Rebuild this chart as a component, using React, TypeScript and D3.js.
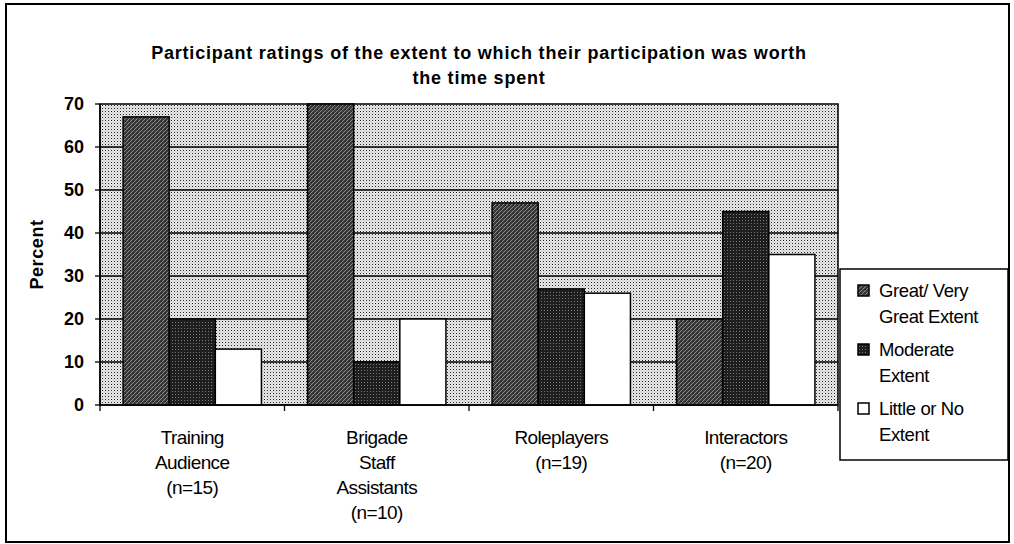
import React from "react";
import * as d3 from "d3";

const categories = ["Training Audience (n=15)", "Brigade Staff Assistants (n=10)", "Roleplayers (n=19)", "Interactors (n=20)"];
const categoryLines = [["Training", "Audience", "(n=15)"], ["Brigade", "Staff", "Assistants", "(n=10)"], ["Roleplayers", "(n=19)"], ["Interactors", "(n=20)"]];
const seriesNames = ["Great/ Very Great Extent", "Moderate Extent", "Little or No Extent"];
const legendLines = [["Great/ Very", "Great Extent"], ["Moderate", "Extent"], ["Little or No", "Extent"]];
const greatVeryGreat = [67, 70, 47, 20];
const moderate = [20, 10, 27, 45];
const littleOrNo = [13, 20, 26, 35];
const yTicks = [0, 10, 20, 30, 40, 50, 60, 70];

const W = 1014, H = 544;
const M = { left: 100, right: 838, top: 104, bottom: 405 };
const FONT = "'Liberation Sans', Arial, sans-serif";

export default function App() {
  const series = [greatVeryGreat, moderate, littleOrNo];
  const x0 = d3.scaleBand().domain(categories).range([M.left, M.right]).paddingInner(0).paddingOuter(0);
  const x1 = d3.scaleBand().domain(seriesNames).range([0, x0.bandwidth()]).paddingInner(0).paddingOuter(0.5);
  const y = d3.scaleLinear().domain([0, 70]).range([M.bottom, M.top]);
  const fills = ["url(#p1)", "url(#p2)", "#ffffff"];
  const boundaries = [...categories.map((c) => x0(c)!), M.right];

  return (
    <svg width={W} height={H} style={{ position: "absolute", left: 0, top: 0, background: "#fff" }} fontFamily={FONT}>
      <defs>
        <pattern id="bg" width="3" height="3" patternUnits="userSpaceOnUse">
          <rect width="3" height="3" fill="#e8e8e8" />
          <rect width="1" height="1" fill="#222" />
          <rect x="1.5" y="1.5" width="1" height="1" fill="#aaa" />
        </pattern>
        <pattern id="p1" width="4" height="4" patternUnits="userSpaceOnUse">
          <rect width="4" height="4" fill="#3a3a3a" />
          <path d="M0,4 L4,0" stroke="#8a8a8a" strokeWidth="1" />
          <rect x="1" y="1" width="1" height="1" fill="#111" />
        </pattern>
        <pattern id="p2" width="3" height="3" patternUnits="userSpaceOnUse">
          <rect width="3" height="3" fill="#1e1e1e" />
          <rect x="1" y="1" width="1" height="1" fill="#7a7a7a" />
        </pattern>
      </defs>

      {/* outer frame */}
      <rect x={6} y={4} width={1003} height={538} fill="none" stroke="#000" strokeWidth={2} />

      {/* title */}
      <text x={479} y={59} textAnchor="middle" fontSize={18} fontWeight="bold" style={{ letterSpacing: "0.8px" }}>Participant ratings of the extent to which their participation was worth</text>
      <text x={479} y={84} textAnchor="middle" fontSize={18} fontWeight="bold" style={{ letterSpacing: "0.8px" }}>the time spent</text>

      {/* plot area */}
      <rect x={M.left} y={M.top} width={M.right - M.left} height={M.bottom - M.top} fill="url(#bg)" stroke="#000" strokeWidth={1.5} />
      {yTicks.filter((t) => t > 0 && t < 70).map((t) => (
        <line key={t} x1={M.left} x2={M.right} y1={y(t)} y2={y(t)} stroke="#000" strokeWidth={1.3} />
      ))}

      {/* bars */}
      {categories.map((c, i) => (
        <g key={c}>
          {series.map((s, j) => (
            <rect key={j} x={x0(c)! + x1(seriesNames[j])!} y={y(s[i])} width={x1.bandwidth()} height={y(0) - y(s[i])}
              fill={fills[j]} stroke="#000" strokeWidth={1.5} />
          ))}
        </g>
      ))}

      {/* axes */}
      <line x1={M.left} x2={M.left} y1={M.top} y2={M.bottom} stroke="#000" strokeWidth={1.5} />
      <line x1={M.left} x2={M.right} y1={M.bottom} y2={M.bottom} stroke="#000" strokeWidth={1.5} />
      {yTicks.map((t) => (
        <g key={t}>
          <line x1={M.left - 5} x2={M.left} y1={y(t)} y2={y(t)} stroke="#000" strokeWidth={1.3} />
          <text x={84} y={y(t)} dy="0.36em" textAnchor="end" fontSize={18} fontWeight="bold">{t}</text>
        </g>
      ))}
      {boundaries.map((b, i) => (
        <line key={i} x1={b} x2={b} y1={M.bottom} y2={M.bottom + 6} stroke="#000" strokeWidth={1.3} />
      ))}
      <text transform={`translate(43,${(M.top + M.bottom) / 2}) rotate(-90)`} textAnchor="middle" fontSize={18} fontWeight="bold" style={{ letterSpacing: "0.6px" }}>Percent</text>

      {/* category labels */}
      {categories.map((c, i) => (
        <text key={c} textAnchor="middle" fontSize={19} style={{ letterSpacing: "-0.6px" }}>
          {categoryLines[i].map((l, k) => (
            <tspan key={k} x={x0(c)! + x0.bandwidth() / 2} y={444 + k * 25}>{l}</tspan>
          ))}
        </text>
      ))}

      {/* legend */}
      <rect x={840} y={269} width={168} height={191} fill="#fff" stroke="#000" strokeWidth={1.5} />
      {legendLines.map((lines, j) => {
        const top = 297 + j * 59;
        return (
          <g key={j}>
            <rect x={858} y={top - 12} width={11} height={11} fill={fills[j]} stroke="#000" strokeWidth={1.5} />
            {lines.map((l, k) => (
              <text key={k} x={879} y={top + k * 26} fontSize={18.5} style={{ letterSpacing: "-0.4px" }}>{l}</text>
            ))}
          </g>
        );
      })}
    </svg>
  );
}
